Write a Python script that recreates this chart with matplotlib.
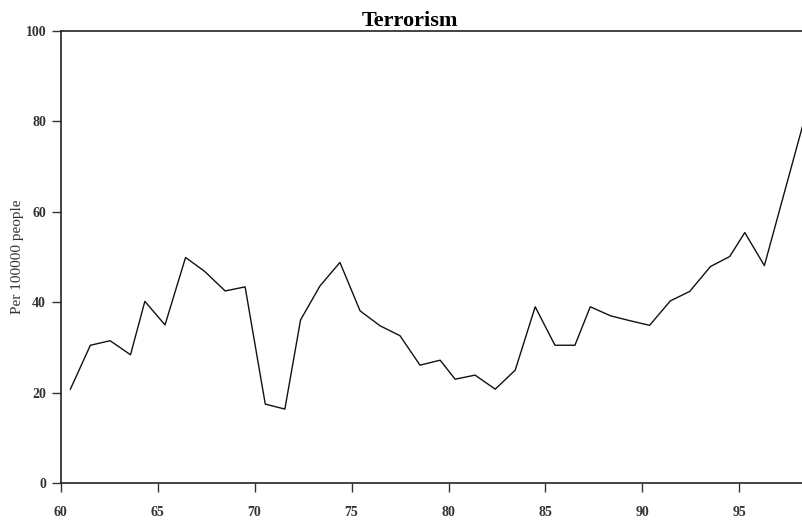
import matplotlib
matplotlib.use('Agg')
import matplotlib.pyplot as plt

# data (year - 1900, rate per 100000 people)
years = [60.50, 61.53, 62.55, 63.60, 64.34, 65.38, 66.44, 67.43, 68.48, 69.51,
         70.55, 71.56, 72.37, 73.37, 74.40, 75.44, 76.47, 77.50, 78.53, 79.57,
         80.34, 81.37, 82.41, 83.44, 84.47, 85.49, 86.52, 87.31, 88.36, 89.38,
         90.37, 91.44, 92.44, 93.51, 94.50, 95.28, 96.29, 98.25]
rate = [20.8, 30.5, 31.5, 28.4, 40.2, 35.0, 49.9, 46.8, 42.5, 43.4,
        17.5, 16.4, 36.1, 43.6, 48.8, 38.1, 34.8, 32.6, 26.1, 27.2,
        23.0, 23.9, 20.8, 25.0, 39.0, 30.5, 30.5, 39.0, 37.0, 35.9,
        34.9, 40.3, 42.4, 47.9, 50.1, 55.4, 48.1, 78.8]

x_ticks = [60, 65, 70, 75, 80, 85, 90, 95]
y_ticks = [0, 20, 40, 60, 80, 100]

fig = plt.figure(figsize=(8.02, 5.22), dpi=100)
ax = fig.add_axes([60.7 / 802, 1 - 483.3 / 522, (802 - 60.7) / 802, (483.3 - 30.7) / 522])

ax.plot(years, rate, color='#111111', linewidth=1.0)

ax.set_xlim(60, 98.23)
ax.set_ylim(0, 100)
ax.set_xticks(x_ticks)
ax.set_yticks(y_ticks)

for side in ['left', 'bottom', 'top']:
    ax.spines[side].set_linewidth(1.2)
    ax.spines[side].set_color('#222222')
ax.spines['right'].set_visible(False)

ax.tick_params(axis='both', direction='out', length=6.5, width=1.0, color='#333333',
               labelsize=10, labelcolor='#333333')
ax.tick_params(axis='y', pad=4)
ax.tick_params(axis='x', pad=10)
for lab in ax.get_xticklabels() + ax.get_yticklabels():
    lab.set_family('Liberation Serif')
    lab.set_fontweight('bold')

ax.set_ylabel('Per 100000 people', family='Liberation Serif', fontsize=11,
              color='#333333', labelpad=1)
ax.set_title('Terrorism', family='Liberation Serif', fontweight='bold', fontsize=16,
             x=(410 - 60.7) / (802 - 60.7), pad=3)

fig.savefig('out.png', dpi=100)
